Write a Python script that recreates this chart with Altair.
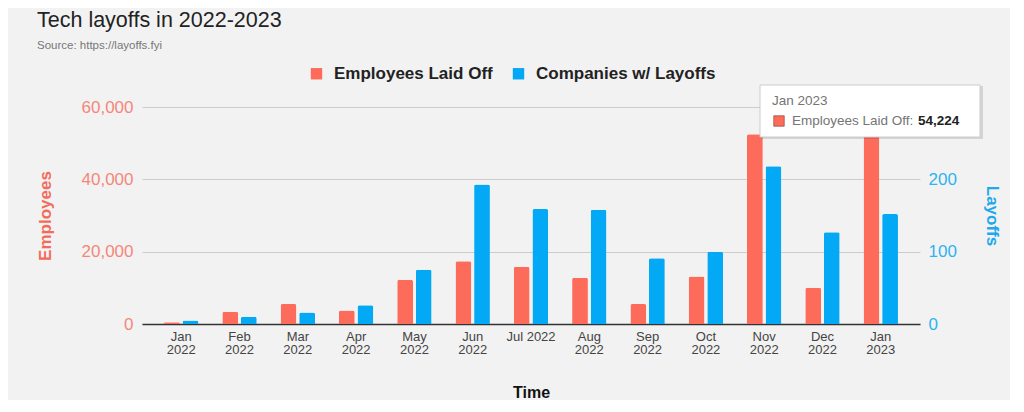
import altair as alt
import pandas as pd

months = ["Jan 2022", "Feb 2022", "Mar 2022", "Apr 2022", "May 2022", "Jun 2022",
          "Jul 2022", "Aug 2022", "Sep 2022", "Oct 2022", "Nov 2022", "Dec 2022", "Jan 2023"]
employees = [510, 3400, 5530, 3700, 12200, 17350, 15850, 12800, 5530, 13100, 52500, 10050, 54224]
companies = [5, 10, 16, 26, 75, 193, 159, 158, 91, 100, 218, 127, 152]

SER_E = "Employees Laid Off"
SER_C = "Companies w/ Layoffs"
RED = "#fd6b5a"
BLUE = "#03a9f4"

df = pd.DataFrame({"month": months, "employees": employees, "companies": companies})

x_enc = alt.X("month:N", sort=months, scale=alt.Scale(paddingInner=0.41, paddingOuter=0.378),
              axis=alt.Axis(title="Time", labelAngle=0, ticks=False, domainColor="#333333",
                            domainWidth=1.5, labelColor="#444444", labelFontSize=13,
                            labelLineHeight=13, labelPadding=6,
                            labelExpr="datum.label == 'Jul 2022' ? datum.label : split(datum.label, ' ')",
                            titleFontSize=16, titleFontWeight="bold", titleColor="#111111",
                            titlePadding=28))
xo_enc = alt.XOffset("series:N", scale=alt.Scale(domain=[SER_E, SER_C], paddingInner=0.15))
color_enc = alt.Color("series:N", scale=alt.Scale(domain=[SER_E, SER_C], range=[RED, BLUE]),
                      legend=alt.Legend(title=None, orient="none", direction="horizontal",
                                        legendX=166, legendY=-42, symbolType="square",
                                        symbolSize=130, symbolStrokeWidth=0, labelFontSize=17,
                                        labelFontWeight="bold", labelColor="#222222",
                                        columnPadding=17, labelOffset=9, labelLimit=300))

emp = alt.Chart(df).transform_calculate(series=f"'{SER_E}'").mark_bar(
    cornerRadiusTopLeft=2, cornerRadiusTopRight=2).encode(
    x=x_enc, xOffset=xo_enc, color=color_enc,
    y=alt.Y("employees:Q", scale=alt.Scale(domain=[0, 60000], nice=False),
            axis=alt.Axis(values=[0, 20000, 40000, 60000], format=",.0f", grid=True,
                          gridColor="#cccccc", domain=False, ticks=False,
                          labelColor="#f4877a", labelFontSize=17, labelPadding=9,
                          title="Employees", titleColor="#f26b5b", titleFontSize=17,
                          titleFontWeight="bold", titlePadding=27)))

comp = alt.Chart(df).transform_calculate(series=f"'{SER_C}'").mark_bar(
    cornerRadiusTopLeft=2, cornerRadiusTopRight=2).encode(
    x=x_enc, xOffset=xo_enc, color=color_enc,
    y=alt.Y("companies:Q", scale=alt.Scale(domain=[0, 300], nice=False),
            axis=alt.Axis(orient="right", values=[0, 100, 200], format=",.0f", grid=False,
                          domain=False, ticks=False, labelColor="#2fb2f0", labelFontSize=17,
                          labelPadding=8, title="Layoffs", titleColor="#1fa8ee",
                          titleFontSize=17, titleFontWeight="bold", titlePadding=26)))

# hover tooltip box shown in the reference
tip_month = months[-1]
tip_value = f"{employees[-1]:,}"
tip = pd.DataFrame({"head": [tip_month], "name": [SER_E + ":"], "val": [tip_value]})
base = alt.Chart(tip)
shadow = base.mark_rect(color="#000000", opacity=0.12).encode(
    x=alt.value(619), x2=alt.value(841), y=alt.value(-21), y2=alt.value(32))
box = base.mark_rect(color="#ffffff", stroke="#cccccc", strokeWidth=1).encode(
    x=alt.value(618), x2=alt.value(838), y=alt.value(-22), y2=alt.value(30))
sq = base.mark_square(size=110, color=RED, stroke="#7a3a33", strokeWidth=0.6, opacity=1).encode(
    x=alt.value(637), y=alt.value(14))
t1 = base.mark_text(align="left", baseline="middle", fontSize=13.5, color="#757575").encode(
    x=alt.value(630), y=alt.value(-6), text="head:N")
t2 = base.mark_text(align="left", baseline="middle", fontSize=13.5, color="#757575").encode(
    x=alt.value(650), y=alt.value(14), text="name:N")
t3 = base.mark_text(align="left", baseline="middle", fontSize=13.5, fontWeight="bold",
                    color="#222222").encode(x=alt.value(776), y=alt.value(14), text="val:N")

chart = alt.layer(emp, comp, shadow, box, sq, t1, t2, t3).resolve_scale(y="independent").properties(
    width=778, height=217,
    title=alt.Title("Tech layoffs in 2022-2023", subtitle="Source: https://layoffs.fyi",
                    anchor="start", frame="group", dx=-105, fontSize=21.5, fontWeight="normal",
                    color="#222222", subtitleFontSize=11.5, subtitleColor="#777777",
                    subtitlePadding=8, offset=14),
    autosize=alt.AutoSizeParams(type="none"),
    padding={"left": 134, "top": 99, "right": 90, "bottom": 76},
).configure(background="#f2f2f2", font="Liberation Sans").configure_view(stroke=None)

chart.save("out.html", embed_options={"renderer": "svg", "actions": False})
